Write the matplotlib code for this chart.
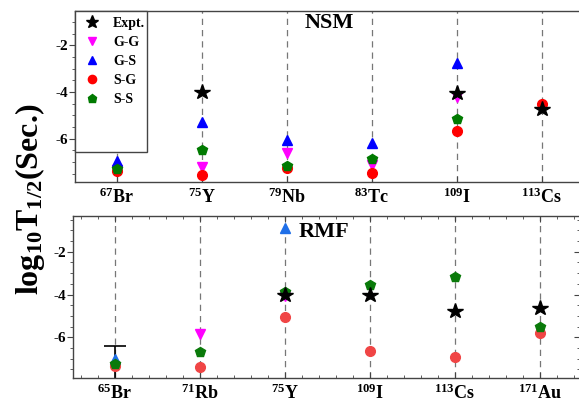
import numpy as np
import matplotlib
matplotlib.use("Agg")
import matplotlib.pyplot as plt
from matplotlib.patches import Rectangle
from matplotlib.ticker import MultipleLocator, AutoMinorLocator, NullFormatter

plt.rcParams['font.family'] = 'Liberation Serif'
plt.rcParams['font.weight'] = 'bold'
plt.rcParams['mathtext.fontset'] = 'custom'
plt.rcParams['mathtext.rm'] = 'Liberation Serif:bold'
plt.rcParams['mathtext.it'] = 'Liberation Serif:bold'
plt.rcParams['mathtext.bf'] = 'Liberation Serif:bold'
plt.rcParams['axes.unicode_minus'] = False

nan = np.nan

# NSM panel
nsm_labels = [r'$^{67}$Br', r'$^{75}$Y', r'$^{79}$Nb', r'$^{83}$Tc', r'$^{109}$I', r'$^{113}$Cs']
nsm_expt = [nan, -4.01, nan, nan, -4.02, -4.73]
nsm_gg = [-7.35, -7.2, -6.6, -7.14, -4.22, nan]
nsm_gs = [-6.96, -5.27, -6.06, -6.2, -2.77, nan]
nsm_sg = [-7.4, -7.55, -7.28, -7.49, -5.67, -4.52]
nsm_ss = [-7.31, -6.5, -7.17, -6.86, -5.15, nan]

# RMF panel
rmf_labels = [r'$^{65}$Br', r'$^{71}$Rb', r'$^{75}$Y', r'$^{109}$I', r'$^{113}$Cs', r'$^{171}$Au']
rmf_expt = [nan, nan, -4.02, -4.04, -4.77, -4.64]
rmf_gg = [nan, -5.85, -4.08, nan, nan, nan]
rmf_gs = [-7.03, nan, -0.87, nan, nan, nan]
rmf_sg = [-7.34, -7.39, -5.05, -6.66, -6.9, -5.82]
rmf_ss = [-7.25, -6.7, -3.87, -3.56, -3.2, -5.52]
# 65Br experimental value with error bar (central value, error)
br65_expt = -7.2
br65_err = 0.8

W, H = 579, 403
fig = plt.figure(figsize=(W / 100, H / 100), dpi=100)
ax1 = fig.add_axes([75 / W, 1 - 182 / H, 505 / W, 171 / H])
ax2 = fig.add_axes([73 / W, 1 - 378 / H, 507 / W, 162 / H])


def draw(ax, labels, expt, gg, gs, sg, ss, cols):
    x = np.arange(len(labels))
    for xi in x:
        ax.axvline(xi, color='#777777', ls=(0, (5, 4)), lw=0.9, zorder=1)
    ax.plot(x, gg, 'v', color=cols[0], ms=7.5, ls='none', label='G-G', zorder=3)
    ax.plot(x, gs, '^', color=cols[1], ms=7.5, ls='none', label='G-S', zorder=3)
    ax.plot(x, sg, 'o', color=cols[2], ms=7, ls='none', label='S-G', zorder=3)
    ax.plot(x, ss, 'p', color=cols[3], ms=7.5, ls='none', label='S-S', zorder=3)
    ax.plot(x, expt, '*', color='black', ms=11.5, ls='none', label='Expt.', zorder=4)
    ax.set_xticks(x)
    ax.set_xticklabels(labels, fontsize=13)
    for s in ax.spines.values():
        s.set_color('#444444')
        s.set_linewidth(1.0)
    ax.yaxis.set_major_locator(MultipleLocator(2))
    ax.yaxis.set_minor_locator(MultipleLocator(0.5))
    ax.tick_params(axis='y', labelsize=11, direction='out', length=4, pad=1,
                   color='#444444')
    ax.tick_params(axis='y', which='minor', direction='out', length=2, color='#444444')
    ax.tick_params(axis='x', direction='in', length=4, color='#444444', pad=4)
    return x


draw(ax1, nsm_labels, nsm_expt, nsm_gg, nsm_gs, nsm_sg, nsm_ss,
     ['#ff00ff', '#0000ff', '#ff0000', '#007a00'])
ax1.set_xlim(-0.49, 5.45)
ax1.set_ylim(-7.86, -0.52)
ax1.text(0.455, 0.93, 'NSM', transform=ax1.transAxes, fontsize=16, va='center')

# legend in a tall white box at upper left
h, l = ax1.get_legend_handles_labels()
order = [4, 0, 1, 2, 3]
leg = ax1.legend([h[i] for i in order], [l[i] for i in order], loc='upper left',
                 bbox_to_anchor=(0.0, 1.0), frameon=False, fontsize=10,
                 handletextpad=0.7, labelspacing=0.42, borderaxespad=0.0,
                 borderpad=0.45, handlelength=1.6, markerscale=0.85)
leg.set_zorder(6)
ax1.add_patch(Rectangle((0, 0.175), 72 / 505, 0.825, transform=ax1.transAxes,
                        fc='white', ec='#444444', lw=1.0, zorder=5, clip_on=False))

x2 = draw(ax2, rmf_labels, rmf_expt, rmf_gg, rmf_gs, rmf_sg, rmf_ss,
          ['#ff00ff', '#1f6fe8', '#f04545', '#0a7a0a'])
ax2.errorbar([x2[0]], [br65_expt], yerr=[br65_err], fmt='none', ecolor='black',
             elinewidth=1.2, capsize=8, capthick=1.2, zorder=2)
ax2.set_xlim(-0.49, 5.47)
ax2.set_ylim(-7.9, -0.33)
ax2.xaxis.set_minor_locator(AutoMinorLocator(5))
ax2.tick_params(axis='x', which='both', top=True, direction='in', color='#444444')
ax2.tick_params(axis='x', which='minor', length=2.5)
ax2.text(0.445, 0.9, 'RMF', transform=ax2.transAxes, fontsize=16, va='center')

# inward ticks on the right edge of the lower panel
sec = ax2.secondary_yaxis('right')
sec.yaxis.set_major_locator(MultipleLocator(2))
sec.yaxis.set_minor_locator(MultipleLocator(0.5))
sec.yaxis.set_major_formatter(NullFormatter())
sec.tick_params(which='both', direction='in', color='#444444')
sec.tick_params(which='major', length=4)
sec.tick_params(which='minor', length=2)
sec.spines['right'].set_color('#444444')

fig.text(0.052, 0.505, r'log$_{10}$T$_{1/2}$(Sec.)', rotation=90, fontsize=23,
         va='center', ha='center')

fig.savefig('out.png', dpi=100)
